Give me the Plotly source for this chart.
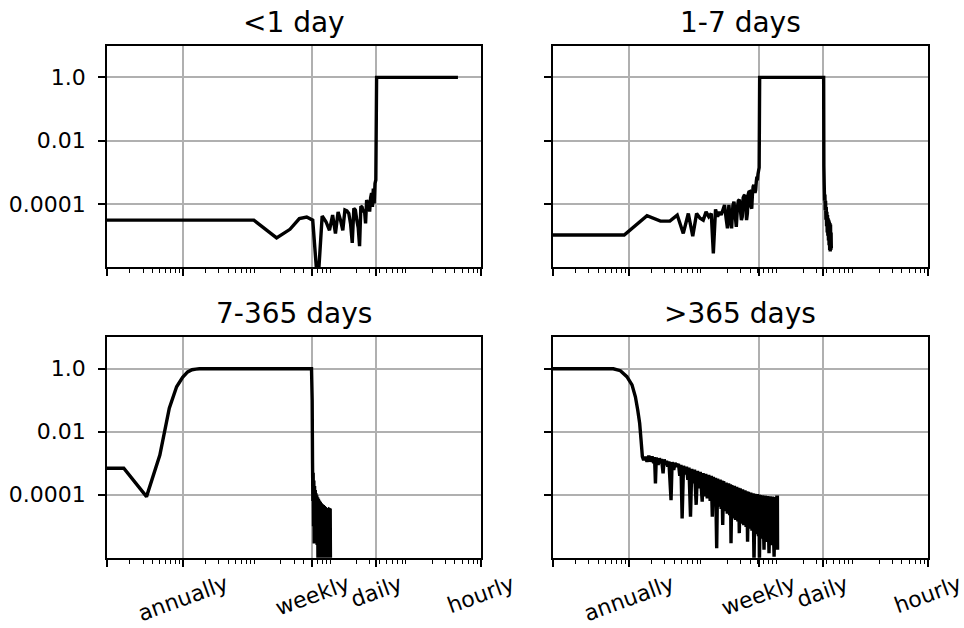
import numpy as np
import plotly.graph_objects as go

# ---------------------------------------------------------------
# Frequency responses of four band filters (frequency in cycles/year,
# gain stored as log10 of the magnitude).
# ---------------------------------------------------------------

# <1 day : high-pass above the daily cycle
lt1_freq = [0.001, 8.76, 17.5, 26.3, 35.0, 43.8, 52.6, 61.3, 70.1, 78.8, 87.6,
            96.4, 105.1, 113.9, 122.6, 131.4, 140.2, 148.9, 157.7, 166.4, 175.2,
            184.0, 192.7, 201.5, 210.2, 219.0, 227.8, 236.5, 245.3, 254.0, 262.8,
            271.6, 280.3, 289.1, 297.8, 306.6, 315.4, 324.1, 332.9, 341.6, 350.4,
            359.2, 367.9, 4380.0]
lt1_log_gain = [-4.51, -4.51, -5.07, -4.80, -4.46, -4.41, -4.51, -6.6, -4.38, -4.56, -4.83,
                -4.35, -4.93, -4.25, -4.51, -4.83, -4.19, -4.22, -4.30, -4.62, -5.23,
                -4.14, -4.19, -4.51, -4.75, -5.33, -4.07, -4.10, -4.26, -4.18, -4.61,
                -3.88, -3.95, -4.05, -4.24, -3.80, -3.66, -4.09, -3.51, -3.98, -3.35,
                -3.24, 0.0, 0.0]

# 1-7 days : band-pass between the weekly and daily cycles
d1_7_freq = [0.001, 0.876, 1.75, 2.63, 3.50, 4.38, 5.26, 6.13, 7.01, 7.88, 8.76,
             9.64, 10.5, 11.4, 12.3, 13.1, 14.0, 14.9, 15.8, 16.6, 17.5,
             18.4, 19.3, 20.1, 21.0, 21.9, 22.8, 23.7, 24.5, 25.4, 26.3,
             27.2, 28.0, 28.9, 29.8, 30.7, 31.5, 32.4, 33.3, 34.2, 35.0,
             35.9, 36.8, 37.7, 38.5, 39.4, 40.3, 41.2, 42.0, 42.9, 43.8,
             44.7, 45.6, 46.4, 47.3, 48.2, 49.1, 49.9, 50.8, 51.7, 52.6,
             53.4, 372.5, 375, 379, 383, 387, 391, 395, 399, 403,
             407, 411, 415, 419, 423, 427, 431, 435, 439, 443,
             447, 451, 455, 459, 463, 467, 470]
d1_7_log_gain = [-4.98, -4.98, -4.37, -4.54, -4.54, -4.35, -4.93, -4.30, -5.02, -4.30, -4.45,
                 -4.51, -4.25, -4.40, -4.30, -5.56, -4.17, -4.40, -4.25, -4.35, -4.19,
                 -4.03, -4.45, -4.77, -4.03, -4.50, -4.77, -4.05, -3.93, -4.35, -4.72,
                 -4.10, -3.90, -3.86, -4.20, -4.51, -4.40, -3.80, -3.74, -3.72, -4.10,
                 -4.51, -4.30, -3.70, -3.62, -3.61, -3.75, -4.09, -4.15, -3.70, -3.45,
                 -3.40, -3.50, -3.65, -3.56, -3.30, -3.14, -3.25, -3.05, -2.95, -2.85,
                 0.0, 0.0, -2.8, -3.4, -3.9, -3.7, -4.2, -3.9, -4.5, -4.1,
                 -4.7, -4.25, -4.9, -4.35, -5.0, -4.45, -5.15, -4.5, -5.3, -4.55,
                 -5.45, -4.6, -5.5, -4.65, -5.45, -4.9, -5.4]

# 7-365 days : band-pass between the annual and weekly cycles
d7_365_freq = [0.01, 0.1667, 0.3333, 0.5, 0.6667, 0.8333, 1.0, 1.1667, 1.3333, 1.5,
               1.6667, 50.7, 51.7, 52.3, 52.8, 53.3, 53.9, 54.4, 55.0, 55.6,
               56.2, 56.8, 57.5, 58.1, 58.8, 59.5, 60.2, 61.0, 61.8, 62.6,
               63.5, 64.4, 65.3, 66.3, 67.3, 68.3, 69.4, 70.5, 71.6, 72.7,
               73.8, 75.0, 76.2, 77.4, 78.6, 79.9, 81.2, 82.5, 83.8, 85.2,
               86.6, 88.0, 89.5, 90.4]
d7_365_log_gain = [-3.16, -3.16, -4.06, -2.74, -1.25, -0.57, -0.27, -0.10, -0.03, -0.01,
                   0.0, 0.0, -1.0, -3.0, -4.2, -3.3, -5.0, -3.55, -5.55, -3.72,
                   -5.3, -3.85, -5.45, -3.95, -5.2, -4.02, -5.6, -4.08, -6.5, -4.13,
                   -6.5, -4.18, -6.5, -4.22, -6.5, -4.27, -6.5, -4.30, -6.5, -4.33,
                   -6.5, -4.36, -6.5, -4.39, -6.5, -4.42, -6.5, -4.44, -6.5, -4.46,
                   -6.5, -4.47, -4.48, -6.5]

# >365 days : low-pass below the annual cycle
gt365_freq = [0.01, 0.3, 0.5, 0.63, 0.78, 0.95, 1.11, 1.23, 1.32, 1.40,
              1.46, 1.52, 1.58, 1.66, 1.75, 1.85, 1.94, 2.04, 2.14, 2.20,
              2.26, 2.32, 2.45, 2.55, 2.63, 2.72, 2.85, 2.95, 3.06, 3.17,
              3.28, 3.40, 3.63, 3.75, 3.94, 4.10, 4.36, 4.55, 4.73, 4.90,
              5.08, 5.30, 5.62, 5.80, 6.04, 6.25, 6.55, 6.80, 7.10, 7.40,
              7.78, 8.10, 8.44, 8.80, 9.34, 9.6, 10.0, 10.4, 10.9, 11.4,
              11.9, 12.3, 12.7, 13.1, 13.6, 14.0, 14.5, 14.9, 15.5, 16.1,
              16.6, 17.0, 17.4, 17.9, 18.6, 19.3, 20.0, 20.8, 21.5, 22.0,
              22.4, 23.0, 23.9, 24.8, 25.7, 26.6, 27.6, 28.2, 28.8, 29.6,
              30.7, 31.8, 33.0, 34.2, 35.4, 36.3, 37.0, 38.0, 39.4, 40.8,
              42.3, 43.8, 45.0, 46.3, 48.0, 49.7, 51.5, 52.3, 53.0, 54.5,
              56.5, 58.5, 61.0, 63.0, 65.5, 68.0, 71.0, 73.5, 76.0, 79.0,
              82.8, 85.5, 88.0, 90.0, 91.5, 92.0]
gt365_log_gain = [0.0, 0.0, 0.0, 0.0, -0.06, -0.25, -0.51, -0.89, -1.31, -1.73,
                  -2.26, -2.79, -2.90, -2.80, -2.95, -2.76, -2.95, -2.78, -3.00, -2.80,
                  -3.64, -2.82, -3.05, -2.84, -3.00, -2.86, -3.32, -2.88, -3.05, -2.92,
                  -3.11, -2.94, -4.17, -2.96, -3.21, -2.99, -3.11, -3.02, -3.40, -3.05,
                  -4.75, -3.08, -3.35, -3.11, -3.53, -3.14, -4.70, -3.18, -3.64, -3.20,
                  -4.32, -3.24, -3.80, -3.27, -4.22, -3.31, -4.05, -3.34, -4.12, -3.37,
                  -4.20, -3.40, -4.70, -3.43, -4.30, -3.46, -5.70, -3.49, -4.38, -3.52,
                  -4.45, -3.55, -4.96, -3.57, -4.52, -3.61, -4.60, -3.64, -4.65, -3.67,
                  -5.54, -3.69, -4.75, -3.72, -4.80, -3.75, -4.85, -3.78, -5.22, -3.80,
                  -4.92, -3.83, -4.97, -3.86, -5.02, -3.89, -5.49, -3.91, -5.08, -3.93,
                  -5.14, -3.95, -6.20, -3.97, -5.25, -3.98, -5.32, -3.99, -6.20, -4.01,
                  -5.40, -4.02, -5.75, -4.03, -5.50, -4.04, -5.86, -4.05, -5.60, -4.06,
                  -5.97, -4.07, -5.70, -4.08, -4.08, -5.75]

panel_titles = ["<1 day", "1-7 days", "7-365 days", ">365 days"]
panel_freqs = [lt1_freq, d1_7_freq, d7_365_freq, gt365_freq]
panel_gains = [lt1_log_gain, d1_7_log_gain, d7_365_log_gain, gt365_log_gain]

# Axis ticks: frequencies in cycles per year
x_tick_vals = [0.1, 1.0, 365.25 / 7.0, 365.0, 8760.0]
x_tick_text = ["", "annually", "weekly", "daily", "hourly"]
y_tick_vals = [1.0, 0.01, 0.0001]
y_tick_text = ["1.0", "0.01", "0.0001"]

X_RANGE = [-1.0, float(np.log10(8760.0))]
Y_RANGE = [-6.0, 1.0]

W, H = 964, 628
col_domains = [[107 / W, 480.7 / W], [552.7 / W, 927.7 / W]]
row_domains = [[1 - 267.3 / H, 1 - 45.7 / H], [1 - 557.7 / H, 1 - 337.3 / H]]

FONT = "DejaVu Sans"
minor_vals = [m * 10.0 ** k for k in range(-1, 4) for m in range(2, 10)]

fig = go.Figure()
layout = dict(
    width=W, height=H,
    margin=dict(l=0, r=0, t=0, b=0),
    paper_bgcolor="white", plot_bgcolor="white",
    showlegend=False,
    font=dict(family=FONT, size=22, color="black"),
)

annotations = []
for i in range(4):
    row, col = divmod(i, 2)
    sfx = "" if i == 0 else str(i + 1)
    fig.add_trace(go.Scatter(
        x=panel_freqs[i],
        y=10.0 ** np.array(panel_gains[i]),
        mode="lines",
        line=dict(color="black", width=3.4, simplify=False),
        xaxis="x" + sfx, yaxis="y" + sfx,
        hoverinfo="skip",
    ))
    common = dict(
        type="log", showline=True, linecolor="black", linewidth=1.7, mirror=True,
        ticks="outside", ticklen=7, tickwidth=1.6, tickcolor="black",
        showgrid=True, gridcolor="#b0b0b0", gridwidth=1.6, zeroline=False,
        tickfont=dict(family=FONT, size=22, color="black"),
    )
    layout["xaxis" + sfx] = dict(
        common, domain=col_domains[col], anchor="y" + sfx, range=X_RANGE,
        tickmode="array", tickvals=x_tick_vals, ticktext=x_tick_text,
        showticklabels=False,
        minor=dict(tickmode="array", tickvals=minor_vals, ticks="outside",
                   ticklen=4, tickwidth=1.2, tickcolor="black", showgrid=False),
    )
    layout["yaxis" + sfx] = dict(
        common, domain=row_domains[row], anchor="x" + sfx, range=Y_RANGE,
        tickmode="array", tickvals=y_tick_vals, ticktext=y_tick_text,
        showticklabels=(col == 0), ticklabelstandoff=8,
    )
    # panel title
    annotations.append(dict(
        text=panel_titles[i], xref="paper", yref="paper",
        x=sum(col_domains[col]) / 2, y=row_domains[row][1] + 23.5 / H,
        xanchor="center", yanchor="middle", showarrow=False,
        font=dict(family=FONT, size=28, color="black"),
    ))
    # rotated frequency labels under the bottom row
    if row == 1:
        for v, t in zip(x_tick_vals, x_tick_text):
            if not t:
                continue
            annotations.append(dict(
                text=t, xref="x" + sfx, yref="paper",
                x=float(np.log10(v)), y=1 - 568 / H,
                xanchor="center", yanchor="top", textangle=-20, showarrow=False,
                font=dict(family=FONT, size=22, color="black"),
            ))

layout["annotations"] = annotations
fig.update_layout(**layout)
fig.write_html("out.html")
